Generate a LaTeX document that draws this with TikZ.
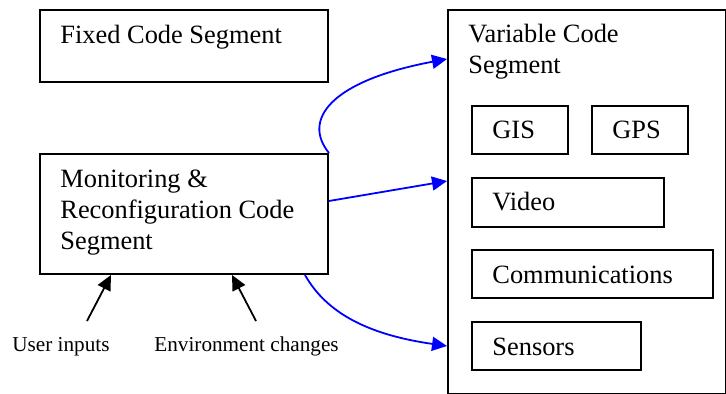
\documentclass[tikz,border=0pt]{standalone}
\usepackage{fontspec}
\setmainfont{Liberation Serif}
\usetikzlibrary{arrows.meta}

\tikzset{
  box/.style={draw, line width=1pt, anchor=north west, inner sep=0pt},
  boxtext/.style={anchor=base west, align=left, inner sep=0pt,
    font=\fontsize{13.2}{15.5}\selectfont},
  smalltext/.style={anchor=base west, inner sep=0pt,
    font=\fontsize{10.6}{12}\selectfont},
  link/.style={blue, line width=0.9pt, -{Triangle[length=7.5pt,width=7pt]}},
  input/.style={line width=0.9pt, -{Triangle[length=7.5pt,width=7pt]}}
}

\begin{document}
\begin{tikzpicture}[x=0.5pt, y=-0.5pt]
        \useasboundingbox (0,0) rectangle (726,394);

        % left column
        \node[box, minimum width=144pt, minimum height=36pt] (fixed) at (39,9) {};
        \node[box, minimum width=144pt, minimum height=60pt] (mon) at (39,153) {};
        \node[boxtext] (fixedtxt) at ([shift={(21,35)}]fixed.north west) {Fixed Code Segment};
        % base of a multi-line node is its last line
        \node[boxtext] (montxt) at ([shift={(21,97)}]mon.north west)
            {Monitoring \&\\Reconfiguration Code\\Segment};

        % right column
        \node[box, minimum width=139pt, minimum height=192pt] (var) at (447,9) {};
        \node[boxtext] (vartxt) at ([shift={(21,65)}]var.north west) {Variable Code\\Segment};
        \node[box, minimum width=48pt, minimum height=24pt] (gis) at (471,105) {};
        \node[box, minimum width=48pt, minimum height=24pt] (gps) at (591,105) {};
        \node[box, minimum width=96pt, minimum height=24.5pt] (video) at (471,177) {};
        \node[box, minimum width=120.5pt, minimum height=24pt] (comm) at (471,249) {};
        \node[box, minimum width=84.5pt, minimum height=24pt] (sensors) at (471,321) {};
        \node[boxtext] (gistxt) at ([shift={(21,34)}]gis.north west) {GIS};
        \node[boxtext] (gpstxt) at ([shift={(21,34)}]gps.north west) {GPS};
        \node[boxtext] (videotxt) at ([shift={(21,34)}]video.north west) {Video};
        \node[boxtext] (commtxt) at ([shift={(21,35)}]comm.north west) {Communications};
        \node[boxtext] (sensorstxt) at ([shift={(21,35)}]sensors.north west) {Sensors};

        % inputs
        \node[smalltext] (user) at (12,351) {User inputs};
        \node[smalltext] (env) at (154,351) {Environment changes};
        \coordinate (userin) at (87,321);
        \coordinate (envin) at (256,321);
        \draw[input] (userin) -- ([xshift=36pt]mon.south west);
        \draw[input] (envin) -- ([xshift=96.5pt]mon.south west);

        % links to the variable segment
        \draw[link] (mon.north east) .. controls +(-27,-33) and +(-117,22) .. ([yshift=71.5pt]var.west);
        \draw[link] ([yshift=6.5pt]mon.east) -- ([yshift=10.5pt]var.west);
        \draw[link] ([xshift=-12pt]mon.south east) .. controls +(22,39) and +(-77,-11) .. (sensors.west -| var.west);
\end{tikzpicture}
\end{document}
